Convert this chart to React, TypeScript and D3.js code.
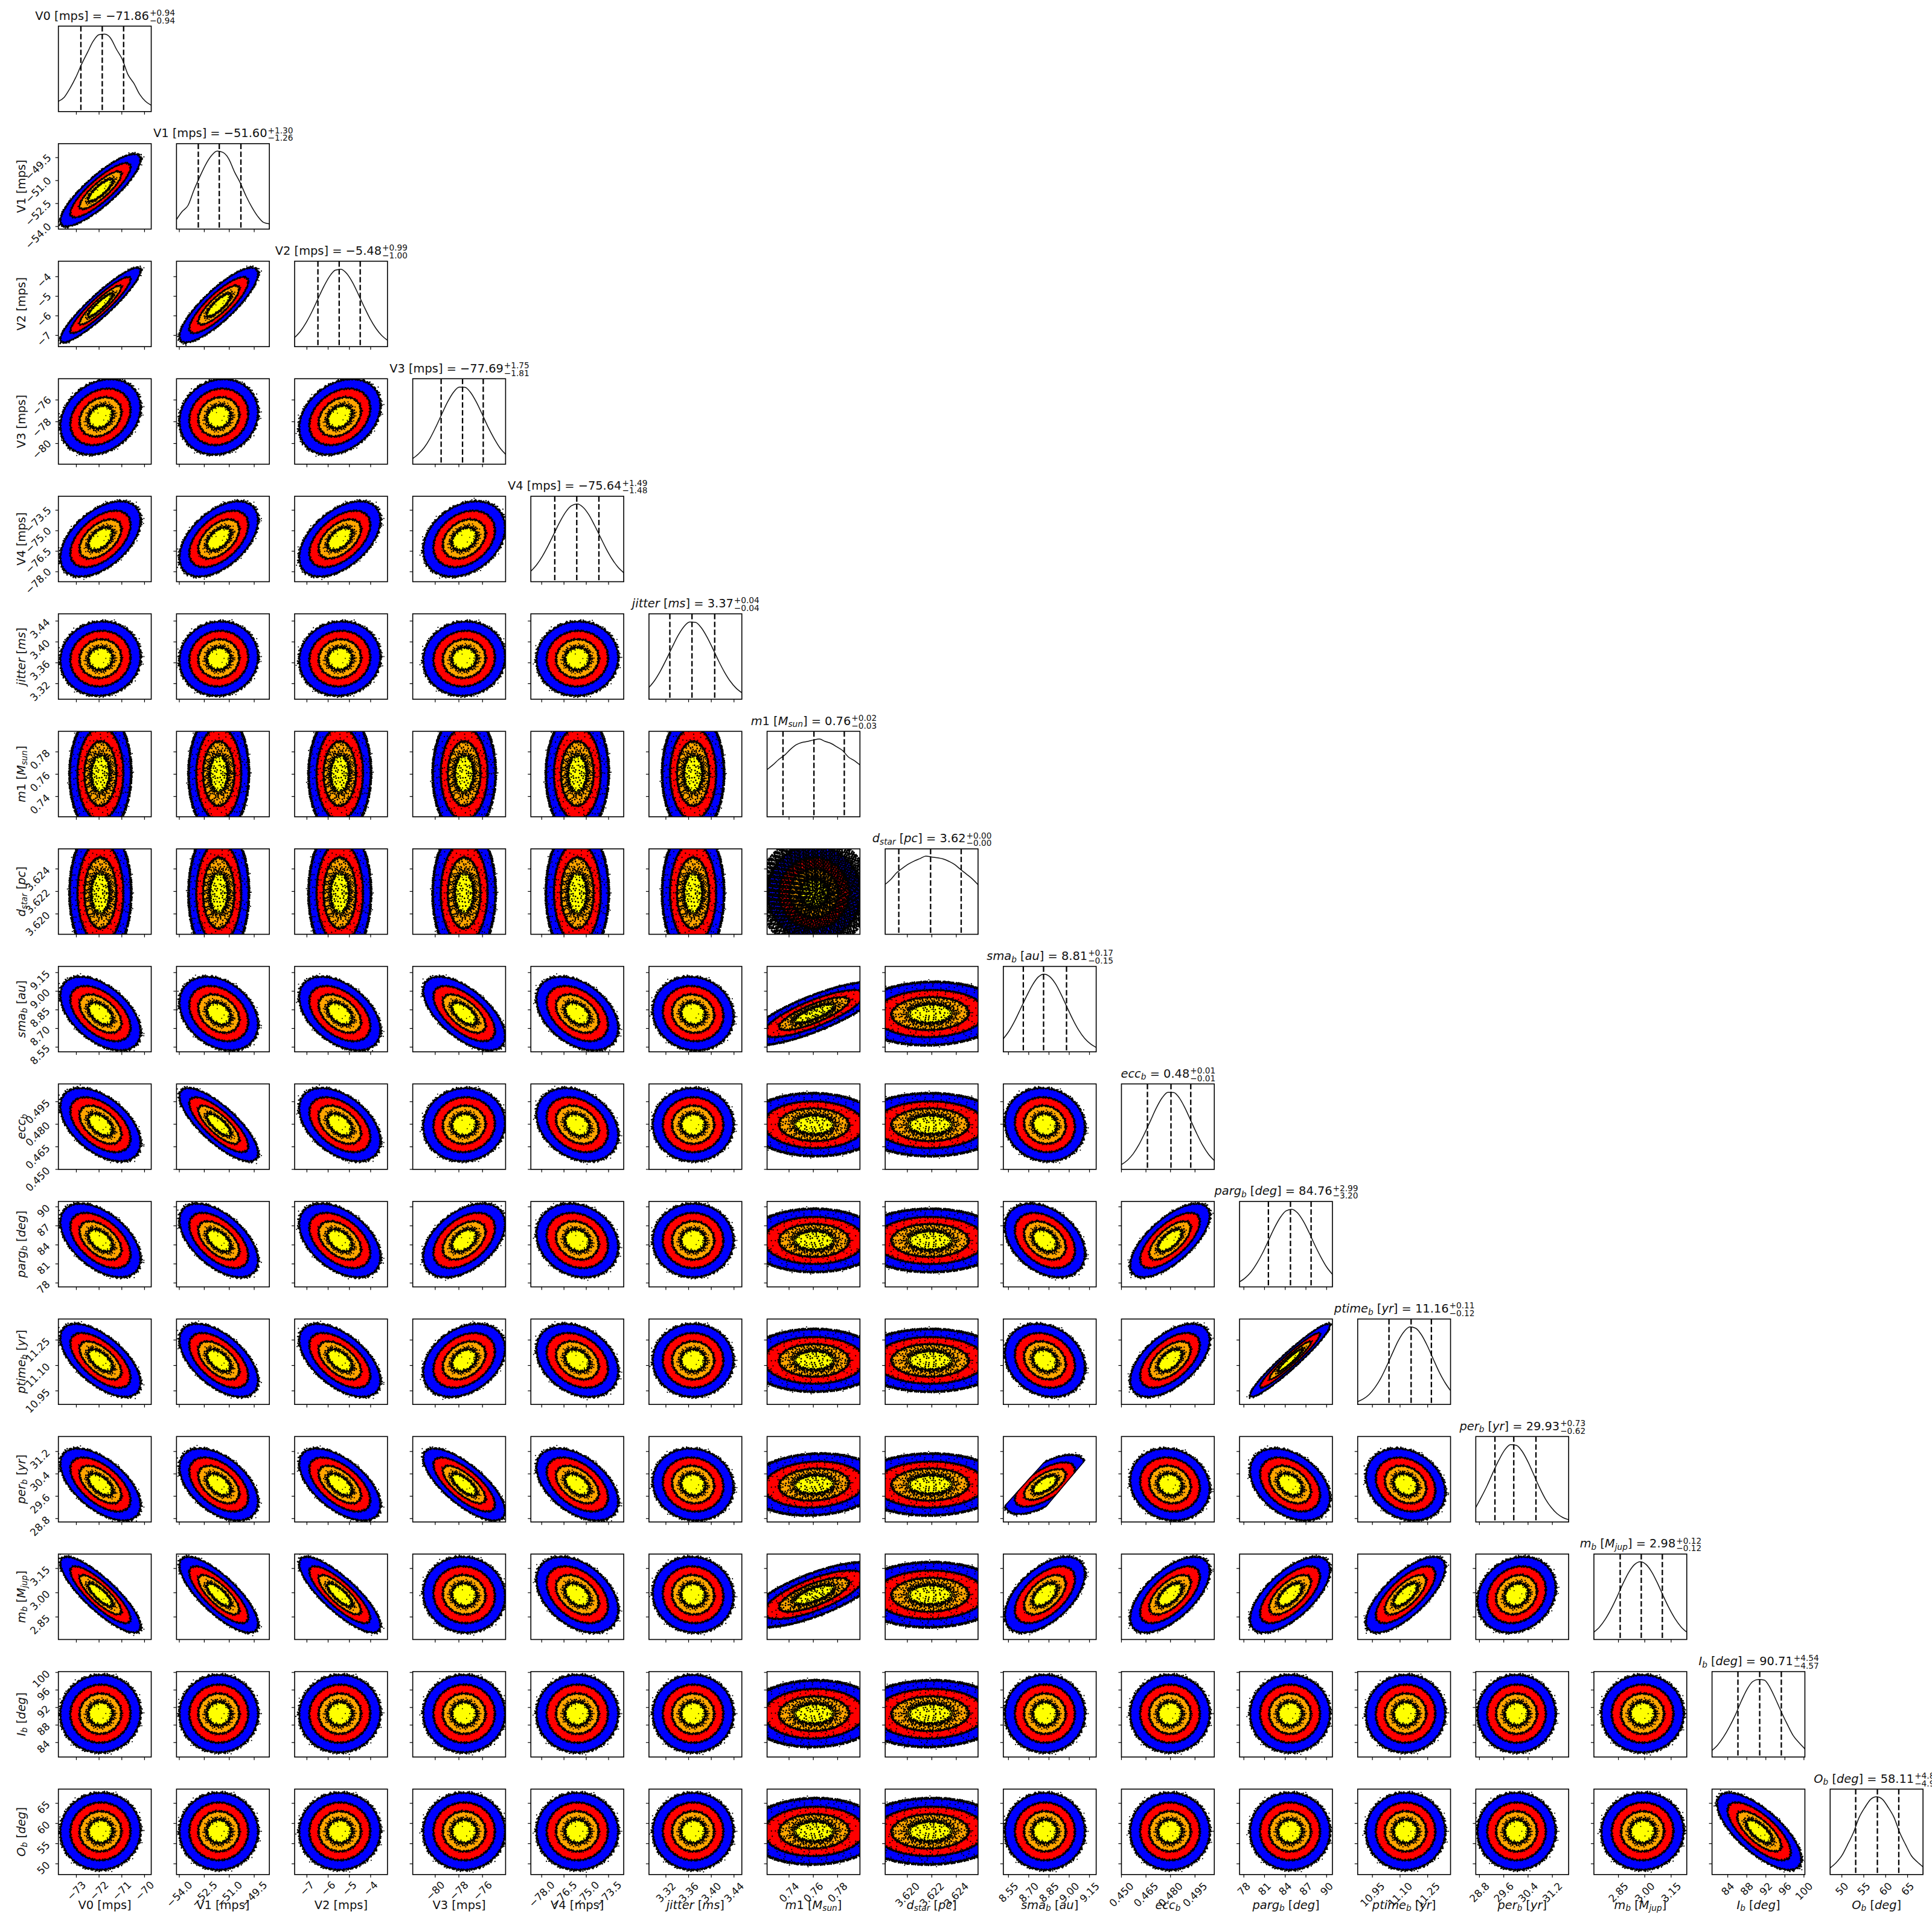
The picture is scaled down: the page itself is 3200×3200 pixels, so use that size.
import React from "react";
import * as d3 from "d3";

// ---------- parameters ----------
const labels = ["V0 [mps]","V1 [mps]","V2 [mps]","V3 [mps]","V4 [mps]","*jitter* [*ms*]","*m*1 [*M*_{sun}]","*d*_{star} [*pc*]","*sma*_{b} [*au*]","*ecc*_{b}","*parg*_{b} [*deg*]","*ptime*_{b} [*yr*]","*per*_{b} [*yr*]","*m*_{b} [*M*_{jup}]","*I*_{b} [*deg*]","*O*_{b} [*deg*]"];
const domainLo = [-73.79,-54.17,-7.577,-81.9,-78.73,3.2902,0.7219,3.61819,8.512,0.45,77.38,10.87,28.68,2.7106,80.7,47.33];
const domainHi = [-69.705,-48.59,-3.207,-74.05,-72.48,3.4538,0.7984,3.62578,9.1996,0.5068,90.84,11.374,31.736,3.239,100.2,68.52];
const tickValues = [[-73,-72,-71,-70],[-54,-52.5,-51,-49.5],[-7,-6,-5,-4],[-80,-78,-76],[-78,-76.5,-75,-73.5],[3.32,3.36,3.40,3.44],[0.74,0.76,0.78],[3.620,3.622,3.624],[8.55,8.70,8.85,9.00,9.15],[0.450,0.465,0.480,0.495],[78,81,84,87,90],[10.95,11.10,11.25],[28.8,29.6,30.4,31.2],[2.85,3.00,3.15],[84,88,92,96,100],[50,55,60,65]];
const tickDigits = [0,1,0,0,1,2,2,3,2,3,0,2,1,2,0,0];
const titleMedian = ["−71.86","−51.60","−5.48","−77.69","−75.64","3.37","0.76","3.62","8.81","0.48","84.76","11.16","29.93","2.98","90.71","58.11"];
const titleUpper = ["+0.94","+1.30","+0.99","+1.75","+1.49","+0.04","+0.02","+0.00","+0.17","+0.01","+2.99","+0.11","+0.73","+0.12","+4.54","+4.88"];
const titleLower = ["−0.94","−1.26","−1.00","−1.81","−1.48","−0.04","−0.03","−0.00","−0.15","−0.01","−3.20","−0.12","−0.62","−0.12","−4.57","−4.95"];
const q16 = [-72.8,-52.86,-6.48,-79.5,-77.12,3.327,0.735,3.6193,8.66,0.4659,81.56,11.04,29.31,2.86,86.14,53.16];
const q50 = [-71.86,-51.6,-5.48,-77.69,-75.64,3.366,0.7605,3.6219,8.81,0.4803,84.76,11.16,29.93,2.98,90.71,58.11];
const q84 = [-70.92,-50.3,-4.49,-75.94,-74.15,3.406,0.7855,3.6244,8.98,0.4924,87.75,11.27,30.66,3.1,95.25,62.99];
const blobCentre = [-71.94,-51.63,-5.45,-77.55,-75.6,3.368,0.7606,3.62186,8.82,0.4797,84.7,11.13,30.02,2.9875,90.6,58.05];
const blobHalf = [1.763,2.36,1.91,3.46,2.75,0.071,0.055,0.006,0.296,0.0243,5.79,0.215,1.286,0.234,8.84,9.55];

// ---------- correlations (lower triangle) ----------
const corrV1 = [0.85];
const corrV2 = [0.92,0.84];
const corrV3 = [0.25,0.12,0.3];
const corrV4 = [0.5,0.5,0.5,0.3];
const corrJitter = [0.05,0.05,0.05,0.05,0.03];
const corrM1 = [0.02,0.01,0.02,0.01,0.02,0];
const corrDstar = [0,0.01,0,0.01,0,0,0];
const corrSma = [-0.5,-0.3,-0.45,-0.62,-0.4,-0.08,0.8,0.05];
const corrEcc = [-0.5,-0.78,-0.45,0.05,-0.28,0,-0.03,0,-0.08];
const corrParg = [-0.5,-0.55,-0.45,0.45,-0.18,0,0,0,-0.36,0.68];
const corrPtime = [-0.62,-0.56,-0.56,0.33,-0.3,0,0,0,-0.2,0.56,0.955];
const corrPer = [-0.58,-0.48,-0.58,-0.74,-0.48,-0.08,0.1,0.02,0.65,-0.12,-0.38,-0.22];
const corrMb = [-0.84,-0.78,-0.82,-0.05,-0.4,-0.05,0.72,0.02,0.55,0.62,0.66,0.72,0.18];
const corrIb = [0.02,0,0.02,0,0,0,0.03,0.03,0,0,0,0.02,0,0];
const corrOb = [0.02,0,0.01,0,0,0,0.03,0.03,0,0,0,0,0,0.02,-0.72];
const corr = [[],corrV1,corrV2,corrV3,corrV4,corrJitter,corrM1,corrDstar,corrSma,corrEcc,corrParg,corrPtime,corrPer,corrMb,corrIb,corrOb];

// per vs sma: hard edge of the sampled region, in data units (sma, per)
const perSmaEdge = [[8.40,28.62],[8.95,31.56],[9.20,31.34],[8.70,28.47]];
const perSmaSpread = 0.82;

// ---------- histogram heights, 17 samples across each box ----------
const histV0 = [.12,.167,.272,.40,.554,.69,.824,.90,.906,.859,.73,.613,.432,.331,.202,.12,.073];
const histV1 = [.113,.208,.279,.456,.61,.752,.858,.913,.898,.823,.669,.54,.385,.255,.149,.078,.061];
const histV2 = [.107,.18,.283,.411,.557,.70,.82,.895,.906,.854,.749,.61,.464,.327,.215,.131,.074];
const histV3 = [.067,.121,.197,.304,.438,.585,.727,.84,.902,.90,.836,.722,.58,.432,.304,.193,.116];
const histV4 = [.123,.198,.30,.425,.563,.70,.815,.889,.909,.871,.783,.657,.519,.383,.265,.171,.105];
const histJitter = [.138,.222,.334,.467,.609,.744,.848,.904,.90,.838,.728,.592,.448,.319,.211,.131,.076];
const histM1 = [.553,.607,.67,.72,.788,.842,.87,.882,.899,.91,.882,.859,.819,.776,.70,.659,.607];
const histDstar = [.585,.645,.723,.775,.822,.858,.886,.915,.905,.896,.882,.853,.815,.758,.704,.649,.58];
const histSma = [.153,.245,.366,.508,.65,.78,.875,.91,.88,.795,.666,.519,.376,.253,.158,.094,.051];
const histEcc = [.056,.105,.18,.287,.422,.569,.717,.836,.902,.90,.834,.712,.563,.416,.282,.177,.103];
const histParg = [.059,.107,.177,.278,.401,.546,.69,.811,.89,.909,.865,.767,.634,.486,.351,.233,.147];
const histPtime = [.033,.065,.118,.20,.309,.449,.601,.746,.853,.907,.892,.814,.687,.535,.386,.261,.161];
const histPer = [.17,.296,.432,.585,.727,.844,.905,.897,.826,.703,.552,.401,.269,.17,.098,.052,.026];
const histMb = [.086,.149,.241,.361,.502,.653,.786,.877,.91,.877,.786,.653,.502,.361,.241,.149,.086];
const histIb = [.077,.143,.237,.354,.49,.648,.789,.883,.908,.90,.812,.671,.519,.378,.249,.167,.096];
const histOb = [.078,.137,.22,.35,.49,.669,.787,.882,.91,.882,.787,.669,.49,.35,.22,.149,.09];
const hists = [histV0,histV1,histV2,histV3,histV4,histJitter,histM1,histDstar,histSma,histEcc,histParg,histPtime,histPer,histMb,histIb,histOb];

// ---------- layout and style ----------
const SIZE = 3200, LEFT = 96.7, PITCH_X = 195.64, BOX_W = 153.8, TOP = 43.3, PITCH_Y = 194.67, BOX_H = 141.5;
const FONT = '"DejaVu Sans"', LABEL_PX = 19.4, SMALL_PX = 13.7, TICK_PX = 17;
const ringRadii = [1, 0.75, 0.52, 0.30];
const ringColours = ["#0000ff", "#ff0000", "#ffa500", "#ffff00"];
const ringBeads = [
  [{ f: 1.016, w: 3.5, d: "0 3.1 0 5.3 0 2.3 0 7.1 0 4.3" }, { f: 0.985, w: 2.7, d: "0 4.7 0 3.3 0 6.1" }, { f: 1.042, w: 2.7, d: "0 6.3 0 11.1 0 4.1 0 17.3" }, { f: 1.085, w: 2.1, d: "0 31 0 53 0 71 0 41" }],
  [{ f: 1.02, w: 3.1, d: "0 4.1 0 6.3 0 2.9 0 5.7" }, { f: 0.975, w: 2.7, d: "0 5.3 0 3.7 0 8.1" }],
  [{ f: 1.032, w: 3.1, d: "0 3.9 0 5.7 0 3.1 0 7.3" }, { f: 0.965, w: 2.8, d: "0 4.3 0 3.1 0 6.7" }, { f: 1.075, w: 2.2, d: "0 13 0 29 0 19" }],
  [{ f: 1.09, w: 3.2, d: "0 3.3 0 2.4 0 4.7 0 2.9" }, { f: 0.92, w: 2.7, d: "0 3.7 0 5.3 0 2.7" }, { f: 1.22, w: 3.0, d: "0 4.1 0 6.9 0 3.3" }, { f: 0.8, w: 2.1, d: "0 11 0 17 0 7 0 23" }, { f: 1.36, w: 2.2, d: "0 9 0 15 0 6" }, { f: 0.45, w: 1.8, d: "0 17 0 29" }],
];
const speckleDense = [0.08, 0.14, 0.2, 0.27, 0.35, 0.39, 0.43, 0.47];
const speckleSparse = [0.58, 0.64, 0.70, 0.82, 0.88, 0.94];
const wideParams = [6, 7];

const ctx = typeof document !== "undefined" ? document.createElement("canvas").getContext("2d") : null;
function widthOf(text: string, px: number, italic = false) {
  if (!ctx) return text.length * px * 0.6;
  ctx.font = `${italic ? "italic " : ""}${px}px ${FONT}`;
  return ctx.measureText(text).width;
}
type Seg = { t: string; italic: boolean; sub: boolean };
function parseLabel(s: string): Seg[] {
  const out: Seg[] = [];
  const re = /\*([^*]+)\*|_\{([^}]+)\}|([^*_]+)/g;
  let m;
  while ((m = re.exec(s))) {
    if (m[1]) out.push({ t: m[1], italic: true, sub: false });
    else if (m[2]) out.push({ t: m[2], italic: true, sub: true });
    else out.push({ t: m[3], italic: false, sub: false });
  }
  return out;
}
function segWidth(segs: Seg[]) {
  return d3.sum(segs, (s) => widthOf(s.t, s.sub ? SMALL_PX : LABEL_PX, s.italic));
}
function segSpans(segs: Seg[]) {
  const spans: any[] = [];
  let shift = 0;
  segs.forEach((s, i) => {
    const target = s.sub ? 3.6 : 0;
    spans.push(
      <tspan key={i} fontStyle={s.italic ? "italic" : "normal"} fontSize={s.sub ? SMALL_PX : LABEL_PX} dy={target - shift}>
        {s.t}
      </tspan>
    );
    shift = target;
  });
  return spans;
}

const angles = d3.range(72).map((k) => (k / 72) * 2 * Math.PI);

function Blob({ i, j }: { i: number; j: number }) {
  const x = d3.scaleLinear([domainLo[j], domainHi[j]], [0, BOX_W]);
  const y = d3.scaleLinear([domainLo[i], domainHi[i]], [BOX_H, 0]);
  const rho = corr[i][j];
  const wideI = wideParams.includes(i), wideJ = wideParams.includes(j);
  const both = wideI && wideJ;
  const spreadX = both ? 0.7 : wideI ? 0.76 : 1;
  let spreadY = both ? 0.7 : wideJ ? 0.85 : 1;
  const cut = i === 12 && j === 8;
  if (cut) spreadY = perSmaSpread;
  const ex = blobHalf[j] * spreadX, ey = blobHalf[i] * spreadY;
  const root = Math.sqrt(1 - rho * rho);
  const ring = (r: number) =>
    d3.line<number>()
      .x((t) => x(blobCentre[j] + r * ex * Math.cos(t)))
      .y((t) => y(blobCentre[i] + r * ey * (rho * Math.cos(t) + root * Math.sin(t))))
      .curve(d3.curveLinearClosed)(angles) as string;
  const level = both ? 4 : wideI || wideJ ? 2 : 1;
  const id = `b${i}_${j}`;
  const edge = d3.line<number[]>().x((p) => x(p[0])).y((p) => y(p[1])).curve(d3.curveLinearClosed)(perSmaEdge) as string;
  const beadPath = (r: number, w: number, dash: string, key: string, offset = 0) => (
    <path key={key} d={ring(r)} fill="none" stroke="#000" strokeWidth={w} strokeLinecap="round" strokeDasharray={dash} strokeDashoffset={offset} />
  );
  return (
    <g>
      <defs>
        <clipPath id={id}>
          {cut ? <path d={edge} /> : <rect x={0} y={0} width={BOX_W} height={BOX_H} />}
        </clipPath>
        {cut && (
          <clipPath id={id + "o"}>
            <path d={ring(1.0)} />
          </clipPath>
        )}
      </defs>
      <g clipPath={`url(#${id})`}>
        {ringRadii.map((r, k) => (
          <path key={k} d={ring(r)} fill={ringColours[k]} stroke="#000" strokeWidth={2.2} />
        ))}
        {cut && (
          <g clipPath={`url(#${id}o)`}>
            <path d={edge} fill="none" stroke="#000" strokeWidth={3} />
          </g>
        )}
        {ringRadii.map((r, k) =>
          ringBeads[k].map((b, n) => beadPath(r * b.f, b.w, b.d, `r${k}_${n}`))
        )}
        {level === 2 && speckleDense.map((r, n) => beadPath(r, 2.8, "0 5.1 0 8.3 0 3.7 0 10.1", `d${n}`, n * 2.3))}
        {level === 2 && speckleSparse.map((r, n) => beadPath(r, 2.3, "0 13 0 21 0 9 0 27", `s${n}`, n * 5.1))}
        {level === 2 && [1.03, 0.76, 0.53].map((r, n) => beadPath(r, 3.2, "0 3.3 0 4.9 0 2.7", `e${n}`))}
        {level === 4 && d3.range(0.03, 1.22, 0.024).map((r, n) => (
          beadPath(r, n % 2 ? 3.6 : 3.2, n % 3 ? "0 3.1 0 4.3 0 2.7 0 5.1" : "0 2.3 0 3.9 0 5.3 0 3.1", `f${n}`, n * 1.9)
        ))}
      </g>
    </g>
  );
}

function Hist({ i }: { i: number }) {
  const x = d3.scaleLinear([domainLo[i], domainHi[i]], [0, BOX_W]);
  const y = d3.scaleLinear([0, 1], [BOX_H, 0]);
  const n = hists[i].length - 1;
  const atX = (k: number) => x(domainLo[i] + (k / n) * (domainHi[i] - domainLo[i]));
  const curve = d3.line<number>()
    .x((_, k) => atX(k))
    .y((v) => y(v))
    .curve(d3.curveMonotoneX)(hists[i]) as string;
  return (
    <g>
      <line x1={0} x2={0} y1={y(hists[i][0])} y2={BOX_H} stroke="#999" strokeWidth={1.2} />
      <line x1={BOX_W} x2={BOX_W} y1={y(hists[i][n])} y2={BOX_H} stroke="#999" strokeWidth={1.2} />
      <path d={curve} fill="none" stroke="#111" strokeWidth={1.5} />
      {[q16[i], q50[i], q84[i]].map((q, k) => (
        <line key={k} x1={x(q)} x2={x(q)} y1={0} y2={BOX_H} stroke="#000" strokeWidth={2.3} strokeDasharray="9 4" />
      ))}
    </g>
  );
}

function rotatedBox(text: string) {
  const pad = text.startsWith("−") ? 0 : 6;
  return (widthOf(text, TICK_PX) + pad) * Math.SQRT1_2;
}

function Panel({ i, j }: { i: number; j: number }) {
  const x = d3.scaleLinear([domainLo[j], domainHi[j]], [0, BOX_W]);
  const y = d3.scaleLinear([domainLo[i], domainHi[i]], [BOX_H, 0]);
  const isDiag = i === j;
  const bottom = i === labels.length - 1;
  const fmtX = d3.format(`.${tickDigits[j]}f`);
  const fmtY = d3.format(`.${tickDigits[i]}f`);
  return (
    <g transform={`translate(${LEFT + j * PITCH_X},${TOP + i * PITCH_Y})`}>
      {isDiag ? <Hist i={i} /> : <Blob i={i} j={j} />}
      <rect x={0} y={0} width={BOX_W} height={BOX_H} fill="none" stroke="#000" strokeWidth={1.6} />
      {tickValues[j].map((t) => (
        <line key={t} x1={x(t)} x2={x(t)} y1={BOX_H} y2={BOX_H + 5} stroke="#000" strokeWidth={1.2} />
      ))}
      {!isDiag && tickValues[i].map((t) => (
        <line key={t} x1={-5} x2={0} y1={y(t)} y2={y(t)} stroke="#000" strokeWidth={1.2} />
      ))}
      {bottom && tickValues[j].map((t) => {
        const s = fmtX(t);
        const b = rotatedBox(s);
        const cy = BOX_H + 14 + b / 2;
        return (
          <text key={t} textAnchor="middle" dominantBaseline="central" fontSize={TICK_PX} fill="#111"
            transform={`translate(${x(t)},${cy}) rotate(-45)`}>{s}</text>
        );
      })}
      {j === 0 && !isDiag && tickValues[i].map((t) => {
        const s = fmtY(t);
        const b = rotatedBox(s);
        return (
          <text key={t} textAnchor="middle" dominantBaseline="central" fontSize={TICK_PX} fill="#111"
            transform={`translate(${-15 - b / 2},${y(t) - 3 + b / 2}) rotate(-45)`}>{s}</text>
        );
      })}
    </g>
  );
}

function Title({ i }: { i: number }) {
  const segs = parseLabel(labels[i]);
  const tail = ` = ${titleMedian[i]}`;
  const mainW = segWidth(segs) + widthOf(tail, LABEL_PX);
  const supW = Math.max(widthOf(titleUpper[i], SMALL_PX), widthOf(titleLower[i], SMALL_PX));
  const start = LEFT + i * PITCH_X + BOX_W / 2 - (mainW + supW) / 2;
  const base = TOP + i * PITCH_Y - 10.6;
  const after = start + mainW + 1;
  return (
    <g fill="#111">
      <text x={start} y={base} fontSize={LABEL_PX} xmlSpace="preserve" style={{ whiteSpace: "pre" }}>
        {segSpans(segs)}
        <tspan dy={segs[segs.length - 1].sub ? -3.6 : 0}>{tail}</tspan>
      </text>
      <text x={after} y={base - 6.7} fontSize={SMALL_PX}>{titleUpper[i]}</text>
      <text x={after} y={base + 5.8} fontSize={SMALL_PX}>{titleLower[i]}</text>
    </g>
  );
}

export default function App() {
  const n = labels.length;
  const panels: [number, number][] = [];
  d3.range(n).forEach((i) => d3.range(i + 1).forEach((j) => panels.push([i, j])));
  return (
    <svg width={SIZE} height={SIZE} viewBox={`0 0 ${SIZE} ${SIZE}`}
      style={{ position: "absolute", left: 0, top: 0, background: "#fff", fontFamily: FONT }}>
      {panels.map(([i, j]) => <Panel key={`${i}-${j}`} i={i} j={j} />)}
      {d3.range(n).map((i) => <Title key={i} i={i} />)}
      {d3.range(n).map((j) => (
        <text key={j} x={LEFT + j * PITCH_X + BOX_W / 2} y={3161.7} textAnchor="middle" fontSize={LABEL_PX} fill="#111"
          style={{ whiteSpace: "pre" }}>{segSpans(parseLabel(labels[j]))}</text>
      ))}
      {d3.range(1, n).map((i) => (
        <text key={i} textAnchor="middle" fontSize={LABEL_PX} fill="#111" style={{ whiteSpace: "pre" }}
          transform={`translate(41.5,${TOP + i * PITCH_Y + BOX_H / 2}) rotate(-90)`}>{segSpans(parseLabel(labels[i]))}</text>
      ))}
    </svg>
  );
}
